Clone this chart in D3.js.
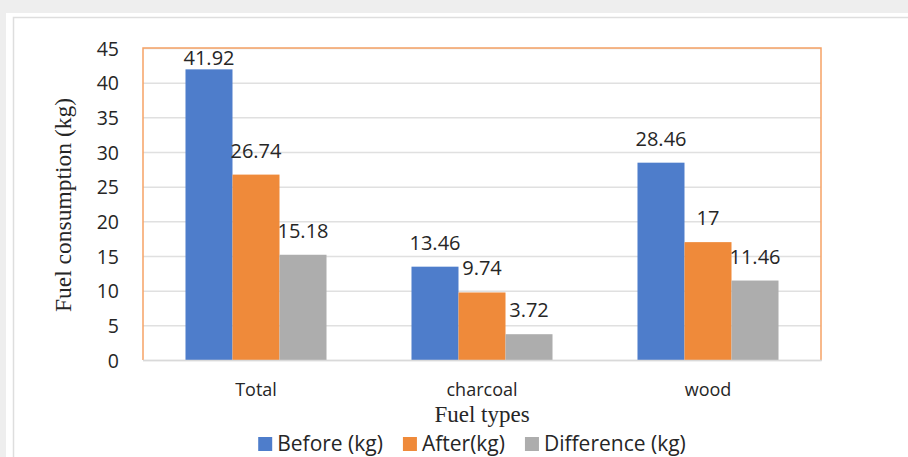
<!DOCTYPE html>
<html>
<head>
<meta charset="utf-8">
<script src="https://cdn.jsdelivr.net/npm/d3@7"></script>
<style>
  html, body { margin: 0; padding: 0; background: #eeeeee; }
  svg { display: block; }
</style>
</head>
<body>
<svg id="chart" width="908" height="457"></svg>
<script>
// Fuel consumption per fuel type, before and after
const categories = ["Total", "charcoal", "wood"];
const seriesNames = ["Before (kg)", "After(kg)", "Difference (kg)"];
const beforeKg = [41.92, 13.46, 28.46];
const afterKg = [26.74, 9.74, 17];
const differenceKg = [15.18, 3.72, 11.46];
const yTicks = [0, 5, 10, 15, 20, 25, 30, 35, 40, 45];
const seriesColors = ["#4e7dcb", "#ef8a3a", "#adadad"];

const seriesValues = [beforeKg, afterKg, differenceKg];
const rows = categories.map((c, i) => ({
  category: c,
  values: seriesNames.map((s, j) => ({ series: s, value: seriesValues[j][i], idx: j }))
}));

const svg = d3.select("#chart");
const W = 908, H = 457;
const sans = "'Open Sans', 'Noto Sans', sans-serif";
const serif = "'Liberation Serif', 'Times New Roman', serif";
const textColor = "#262626";

// page frame
svg.append("rect").attr("x", 0).attr("y", 0).attr("width", W).attr("height", H).attr("fill", "#eeeeee");
svg.append("rect").attr("x", 6).attr("y", 13).attr("width", W - 6).attr("height", H - 13).attr("fill", "#ffffff");
svg.append("path").attr("d", `M13.5,${H} V17.5 H${W}`).attr("fill", "none").attr("stroke", "#dedede").attr("stroke-width", 1.5);

const plot = { left: 143, right: 821, top: 48, bottom: 360 };

const y = d3.scaleLinear().domain([0, 45]).range([plot.bottom, plot.top]);
const x0 = d3.scaleBand().domain(categories).range([plot.left, plot.right])
  .paddingInner(0.376).paddingOuter(0.188);
const x1 = d3.scaleBand().domain(seriesNames).range([0, x0.bandwidth()]);

// gridlines
svg.append("g")
  .attr("transform", `translate(${plot.left},0)`)
  .call(d3.axisLeft(y).tickValues(yTicks).tickSize(-(plot.right - plot.left)).tickFormat(""))
  .call(g => g.select(".domain").remove())
  .call(g => g.selectAll(".tick line").attr("stroke", "#e0e0e0").attr("stroke-width", 1.5));

// y tick labels
svg.append("g")
  .attr("transform", `translate(${plot.left},0)`)
  .call(d3.axisLeft(y).tickValues(yTicks).tickSize(0).tickPadding(24))
  .call(g => g.select(".domain").remove())
  .call(g => g.selectAll(".tick text")
    .attr("font-family", sans).attr("font-size", 19.5).attr("fill", textColor).attr("dy", "0.36em"));

// bars
const groups = svg.append("g").selectAll("g").data(rows).join("g")
  .attr("transform", d => `translate(${x0(d.category)},0)`);

groups.selectAll("rect").data(d => d.values).join("rect")
  .attr("x", d => x1(d.series))
  .attr("y", d => y(d.value))
  .attr("width", x1.bandwidth())
  .attr("height", d => y(0) - y(d.value))
  .attr("fill", d => seriesColors[d.idx]);

// value labels
groups.selectAll("text").data(d => d.values).join("text")
  .attr("x", d => x1(d.series) + x1.bandwidth() / 2)
  .attr("y", d => Math.max(y(d.value) - 17, plot.top + 17))
  .attr("text-anchor", "middle")
  .attr("font-family", sans).attr("font-size", 20).attr("fill", textColor)
  .text(d => d.value);

// plot border (orange) and category axis line
svg.append("path")
  .attr("d", `M${plot.left},${plot.bottom} V${plot.top} H${plot.right} V${plot.bottom}`)
  .attr("fill", "none").attr("stroke", "#f6a265").attr("stroke-width", 1.5);
svg.append("line")
  .attr("x1", plot.left).attr("x2", plot.right + 1)
  .attr("y1", plot.bottom + 0.5).attr("y2", plot.bottom + 0.5)
  .attr("stroke", "#d9d9d9").attr("stroke-width", 1.5);

// category labels
svg.append("g")
  .attr("transform", `translate(0,${plot.bottom})`)
  .call(d3.axisBottom(x0).tickSize(0).tickPadding(0))
  .call(g => g.select(".domain").remove())
  .call(g => g.selectAll(".tick text")
    .attr("font-family", sans).attr("font-size", 18).attr("fill", textColor)
    .attr("dy", 0).attr("y", 36));

// axis titles
svg.append("text")
  .attr("x", (plot.left + plot.right) / 2).attr("y", 422)
  .attr("text-anchor", "middle")
  .attr("font-family", serif).attr("font-size", 23).attr("fill", textColor)
  .text("Fuel types");
svg.append("text")
  .attr("transform", `translate(71,${(plot.top + plot.bottom) / 2 + 1}) rotate(-90)`)
  .attr("text-anchor", "middle")
  .attr("font-family", serif).attr("font-size", 23.5).attr("fill", textColor)
  .text("Fuel consumption (kg)");

// legend
const legend = svg.append("g");
const items = legend.selectAll("g").data(seriesNames).join("g");
items.append("rect")
  .attr("width", 14).attr("height", 14).attr("y", -14)
  .attr("fill", (d, i) => seriesColors[i]);
items.append("text")
  .attr("x", 19).attr("y", 0)
  .attr("font-family", sans).attr("font-size", 21).attr("fill", textColor)
  .text(d => d);
const gap = 20;
let cursor = 0;
items.each(function () {
  const w = 19 + d3.select(this).select("text").node().getComputedTextLength();
  d3.select(this).attr("transform", `translate(${cursor},0)`);
  cursor += w + gap;
});
const legendWidth = cursor - gap;
legend.attr("transform", `translate(${472 - legendWidth / 2},451)`);
</script>
</body>
</html>
